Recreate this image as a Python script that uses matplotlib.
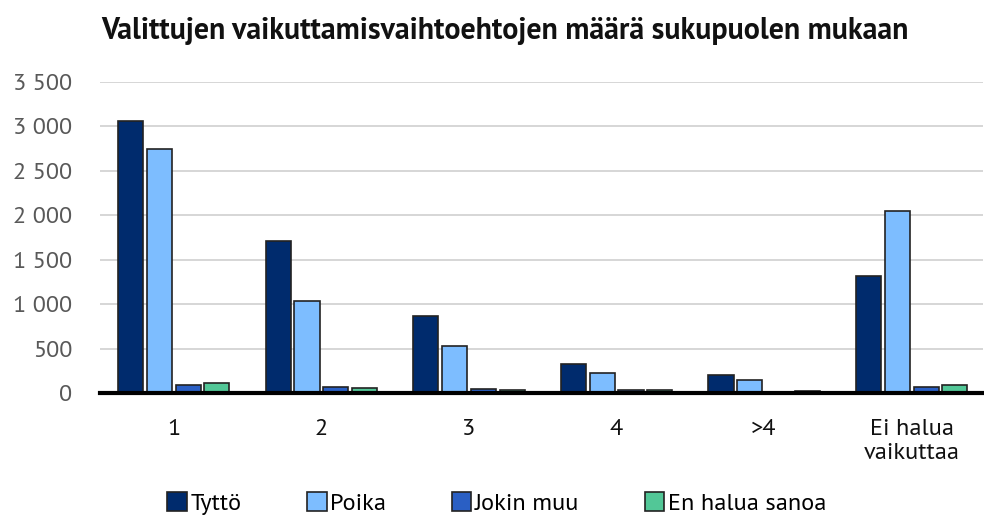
import matplotlib
matplotlib.use("Agg")
import matplotlib.pyplot as plt
import numpy as np
from matplotlib.ticker import FuncFormatter

categories = ["1", "2", "3", "4", ">4", "Ei halua\nvaikuttaa"]
series_names = ["Tyttö", "Poika", "Jokin muu", "En halua sanoa"]
tytto = [3060, 1715, 870, 325, 205, 1320]
poika = [2750, 1035, 530, 230, 148, 2050]
jokin_muu = [95, 68, 45, 35, 10, 62]
en_halua = [110, 55, 35, 30, 18, 92]
colors = ["#002B6D", "#7DBDFF", "#2A5FC4", "#52C797"]

plt.rcParams['font.family'] = ['PT Sans', 'DejaVu Sans']

fig = plt.figure(figsize=(9.84, 5.21), dpi=100)
ax = fig.add_axes([0.1016, 0.2457, 0.897, 0.5969])

x = np.arange(len(categories))
step = 0.195
width = 0.17
for i, (vals, name, c) in enumerate(zip([tytto, poika, jokin_muu, en_halua], series_names, colors)):
    ax.bar(x + (i - 1.5) * step, vals, width=width, color=c, edgecolor="#222222",
           linewidth=1.2, label=name, zorder=3)

ax.set_ylim(0, 3500)
ax.set_xlim(-0.5, 5.48)
ax.set_yticks(np.arange(0, 3501, 500))
ax.yaxis.set_major_formatter(FuncFormatter(lambda v, p: f"{int(v):,}".replace(",", " ")))
ax.grid(axis="y", color="#d0d0d0", linewidth=1.2, zorder=0)
ax.set_xticks(x)
ax.set_xticklabels(categories, linespacing=1.15)
ax.tick_params(axis="both", length=0, labelsize=17.5)
ax.tick_params(axis="x", pad=19, colors="#111111")
ax.tick_params(axis="y", pad=20, colors="#595959")
for s in ["top", "right", "left"]:
    ax.spines[s].set_visible(False)
ax.spines["bottom"].set_linewidth(3)
ax.spines["bottom"].set_color("black")
ax.spines["bottom"].set_zorder(4)

fig.text(0.513, 0.94, "Valittujen vaikuttamisvaihtoehtojen määrä sukupuolen mukaan",
         ha="center", va="center", fontsize=21.5, fontweight="bold", color="#111111")

leg = fig.legend(loc="lower center", bbox_to_anchor=(0.505, -0.03), ncol=4, frameon=False,
                 fontsize=17.5, handlelength=0.8, handleheight=0.8, handletextpad=0.15,
                 columnspacing=2.7)

fig.savefig("out.png", dpi=100)
